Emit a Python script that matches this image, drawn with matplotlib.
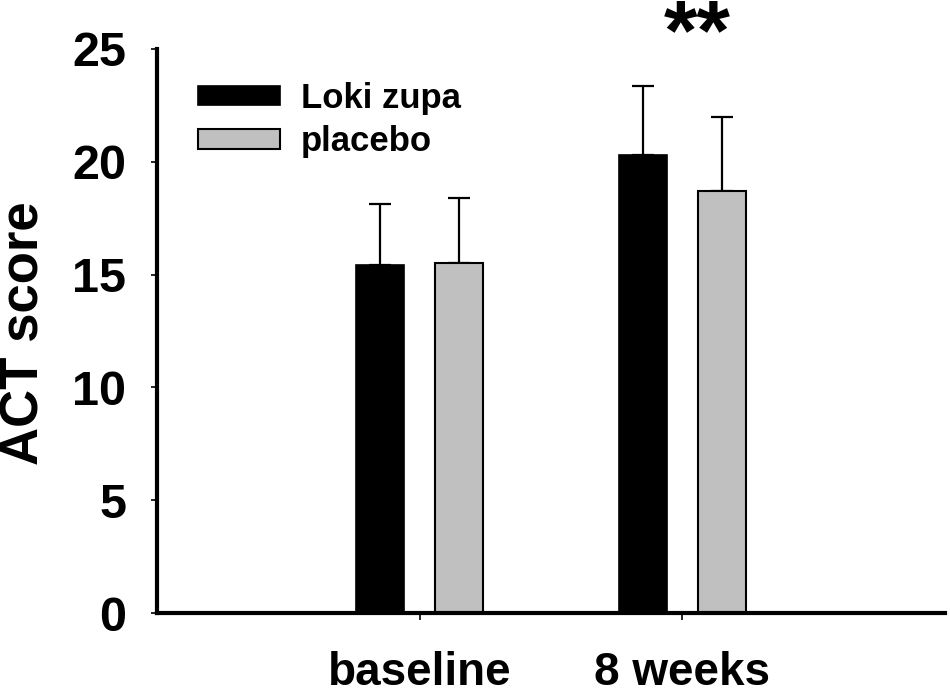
import numpy as np
import matplotlib
matplotlib.use("Agg")
import matplotlib.pyplot as plt

# ACT score, mean and SD
groups = ['baseline', '8 weeks']
loki_mean = [15.43, 20.30]
loki_sd = [2.69, 3.05]
placebo_mean = [15.50, 18.72]
placebo_sd = [2.88, 3.27]

plt.rcParams['font.family'] = ['Liberation Sans', 'DejaVu Sans']
plt.rcParams['font.weight'] = 'bold'

fig = plt.figure(figsize=(9.5, 6.94), dpi=100)
ax = fig.add_axes([0.165, 0.1167, 0.83, 0.8127])

x = np.arange(1, len(groups) + 1)
w = 0.183
off = 0.149

ax.bar(x - off, loki_mean, w, color='black', edgecolor='black', linewidth=1.2,
       label='Loki zupa', zorder=2)
ax.bar(x + off, placebo_mean, w, color='#c0c0c0', edgecolor='black', linewidth=1.5,
       label='placebo', zorder=2)
# upper error bars only
ax.errorbar(x - off, loki_mean, yerr=[np.zeros(2), loki_sd], fmt='none',
            ecolor='black', elinewidth=1.6, capsize=8, capthick=1.6, zorder=1)
ax.errorbar(x + off, placebo_mean, yerr=[np.zeros(2), placebo_sd], fmt='none',
            ecolor='black', elinewidth=1.6, capsize=8, capthick=1.6, zorder=1)

ax.set_xlim(0, 3)
ax.set_ylim(0, 25)
ax.set_yticks([0, 5, 10, 15, 20, 25])
ax.set_xticks(x)
ax.set_xticklabels(groups, fontsize=33, fontweight='bold')
for lab in ax.get_yticklabels():
    lab.set_fontsize(35)
    lab.set_fontweight('bold')

for s in ['top', 'right']:
    ax.spines[s].set_visible(False)
for s in ['left', 'bottom']:
    ax.spines[s].set_linewidth(3)

ax.tick_params(axis='y', direction='out', length=4, width=1.2, pad=18)
ax.tick_params(axis='x', direction='out', length=5, width=1.2, pad=22)

fig.text(25 / 950, 0.52, 'ACT score', rotation=90, ha='center', va='center',
         fontsize=38, fontweight='bold')

# significance marker above 8 weeks
ax.text(2.055, 24.55, '**', ha='center', va='baseline', fontsize=62,
        fontweight='bold', clip_on=False)

leg = ax.legend(loc='upper left', bbox_to_anchor=(0.013, 0.997), frameon=False,
                fontsize=25, handlelength=2.35, handleheight=0.48,
                handletextpad=0.6, labelspacing=0.3)
for t in leg.get_texts():
    t.set_fontweight('bold')

fig.savefig('out.png', dpi=100)
